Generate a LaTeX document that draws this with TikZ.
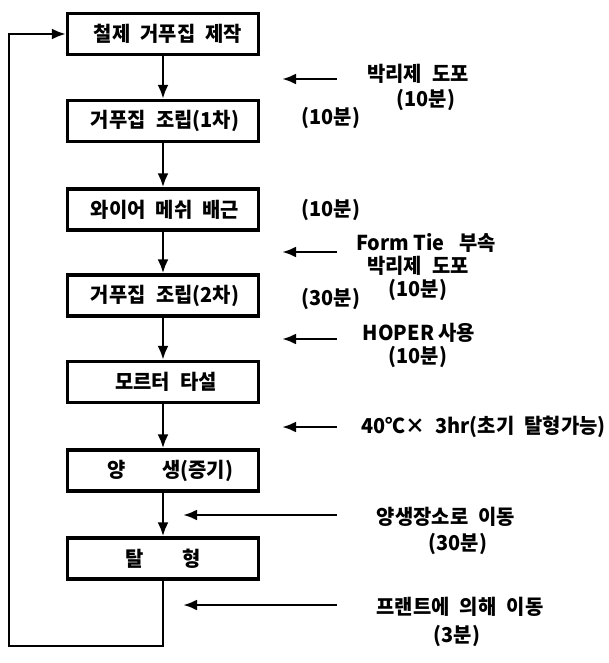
\documentclass[tikz,border=0pt]{standalone}
\usepackage{fontspec}
\newfontfamily\kr{Noto Sans CJK KR}[FakeStretch=0.97]
\usetikzlibrary{arrows.meta}
\newcommand{\ws}{\hspace{0.5em}}
\begin{document}
\begin{tikzpicture}[x=1pt,y=-1pt,
  box/.style={draw, line width=3.2pt, minimum width=191pt, minimum height=41pt, inner sep=0pt,
    font=\kr\bfseries\fontsize{20.5}{24}\selectfont},
  lbl/.style={font=\kr\bfseries\fontsize{20.5}{24}\selectfont, inner sep=0pt, anchor=center},
  flow/.style={line width=2.8pt, -{Latex[length=14pt,width=11pt]}},
  note/.style={line width=2.8pt, -{Latex[length=14pt,width=11pt]}},
]
\useasboundingbox (0,0) rectangle (609,663);
% boxes
\node[box] (b1) at (163,34)    {\hspace{10pt}철제\ws 거푸집\ws 제작};
\node[box] (b2) at (163,121)   {\hspace{4pt}거푸집\ws 조립(1차)};
\node[box] (b3) at (163,209.5) {\hspace{4pt}와이어\ws 메쉬\ws 배근};
\node[box] (b4) at (163,295.5) {\hspace{4pt}거푸집\ws 조립(2차)};
\node[box] (b5) at (163,382)   {\hspace{6pt}모르터\ws 타설};
\node[box] (b6) at (163,470.5) {\hspace{14pt}양\hspace{1.8em}생(증기)};
\node[box] (b7) at (163,558.5) {탈\hspace{1.9em}형};
% main flow
\draw[flow] (b1) -- (b2);
\draw[flow] (b2) -- (b3);
\draw[flow] (b3) -- (b4);
\draw[flow] (b4) -- (b5);
\draw[flow] (b5) -- (b6);
\draw[flow] (b6) -- (b7);
\coordinate (c1) at (9,646);
\draw[flow] (b7.south) |- (c1) |- (b1.west);
% side notes
\coordinate (s1) at (337,79);  \coordinate (e1) at (282,79);
\coordinate (s2) at (337,252); \coordinate (e2) at (282,252);
\coordinate (s3) at (337,339); \coordinate (e3) at (282,339);
\coordinate (s4) at (337,427); \coordinate (e4) at (282,427);
\coordinate (s5) at (337,515); \coordinate (e5) at (183,515);
\coordinate (s6) at (337,605); \coordinate (e6) at (183,605);
\draw[note] (s1) -- (e1);
\draw[note] (s2) -- (e2);
\draw[note] (s3) -- (e3);
\draw[note] (s4) -- (e4);
\draw[note] (s5) -- (e5);
\draw[note] (s6) -- (e6);
\node[lbl] (t1a) at (418,74)  {박리제\ws 도포};
\node[lbl] (t1b) at (426,100) {(10분)};
\node[lbl] (t2)  at (331,118) {(10분)};
\node[lbl] (t3)  at (331,210) {(10분)};
\node[lbl] (t4a) at (426,243) {Form Tie\ws\ 부속};
\node[lbl] (t4b) at (418,266) {박리제\ws 도포};
\node[lbl] (t4c) at (418,290) {(10분)};
\node[lbl] (t5)  at (331,299) {(30분)};
\node[lbl] (t6a) at (419,333) {HOPER 사용};
\node[lbl] (t6b) at (418,357) {(10분)};
\node[lbl, anchor=east] (t7) at (606,427) {40℃×\hspace{0.5em}3hr(초기\ws 탈형가능)};
\node[lbl] (t8a) at (446,517) {양생장소로\ws 이동};
\node[lbl] (t8b) at (458,544) {(30분)};
\node[lbl] (t9a) at (460,607) {프랜트에\ws 의해\ws 이동};
\node[lbl] (t9b) at (457,636) {(3분)};
\end{tikzpicture}
\end{document}
